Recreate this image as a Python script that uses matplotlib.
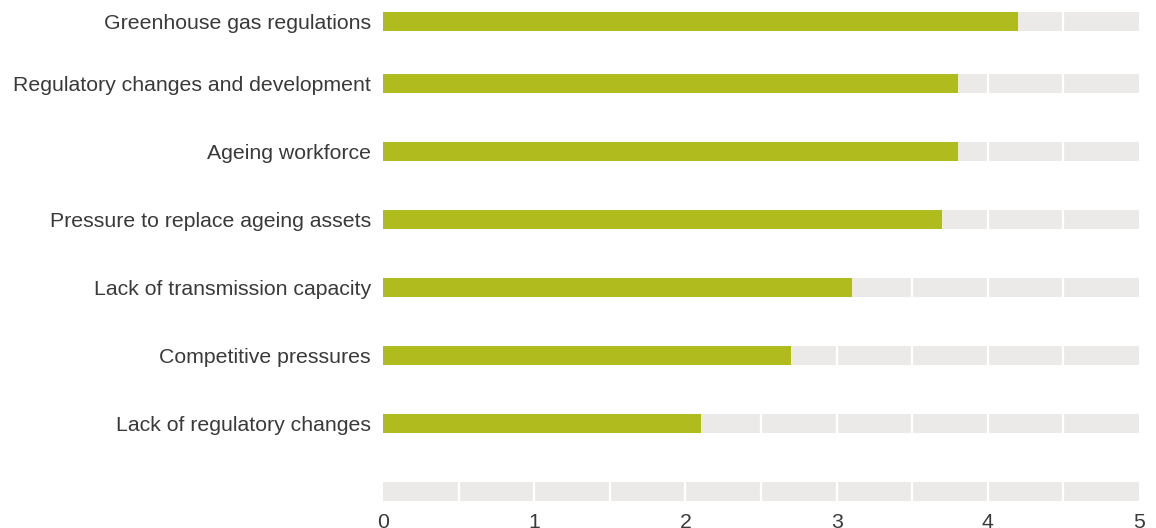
import matplotlib
matplotlib.use("Agg")
import matplotlib.pyplot as plt
import numpy as np

categories = [
    "Greenhouse gas regulations",
    "Regulatory changes and development",
    "Ageing workforce",
    "Pressure to replace ageing assets",
    "Lack of transmission capacity",
    "Competitive pressures",
    "Lack of regulatory changes",
]
values = [4.2, 3.8, 3.8, 3.7, 3.1, 2.7, 2.1]
x_ticks = [0, 1, 2, 3, 4, 5]
x_max = 5

GREEN = "#b0bb1e"
GREY = "#ebeae8"
TEXT = "#3a3a3a"

plt.rcParams["font.family"] = ["Liberation Sans", "DejaVu Sans"]

W, H = 1156, 528
fig = plt.figure(figsize=(W / 100, H / 100), dpi=100)
ax = fig.add_axes([383 / W, 20 / H, 756 / W, 508 / H])

n = len(categories)
ypos = np.arange(n, dtype=float)
ypos[0] += 6 / 68  # top row sits slightly lower in the reference
track_y = n
bar_h = 19 / 68

# grey background tracks
ax.barh(list(ypos) + [track_y], [x_max] * (n + 1), height=bar_h, color=GREY, zorder=1)
# white separators every 0.5
for xv in np.arange(0.5, x_max, 0.5):
    ax.axvline(xv, color="white", lw=1.6, zorder=2)
# values
ax.barh(ypos, values, height=bar_h, color=GREEN, zorder=3)

ax.set_xlim(0, x_max)
ax.set_ylim(7.243, -0.228)
ax.set_yticks(ypos)
ax.set_yticklabels(categories, fontsize=15.3, color=TEXT)
ax.set_xticks(x_ticks)
ax.set_xticklabels([str(t) for t in x_ticks], fontsize=15.3, color=TEXT)
ax.tick_params(axis="y", length=0, pad=8.6)
ax.tick_params(axis="x", length=0, pad=3.8)
for s in ax.spines.values():
    s.set_visible(False)

fig.savefig("out.png", dpi=100)
